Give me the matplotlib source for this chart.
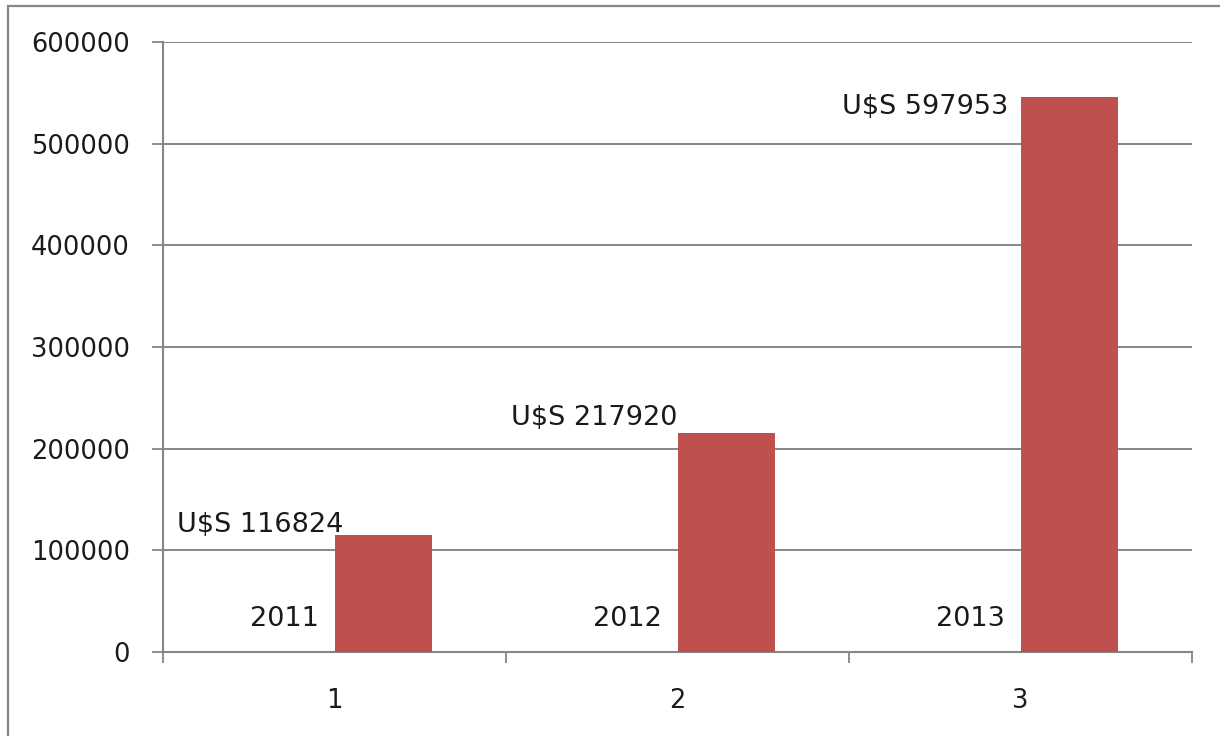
import matplotlib
matplotlib.use("Agg")
import matplotlib.pyplot as plt
from matplotlib.patches import Rectangle

categories = [1, 2, 3]
years = ["2011", "2012", "2013"]
bar_values = [115000, 215500, 546000]
value_labels = ["U$S 116824", "U$S 217920", "U$S 597953"]
y_ticks = [0, 100000, 200000, 300000, 400000, 500000, 600000]

plt.rcParams['font.family'] = ['DejaVu Sans']
W, H = 1220, 736
fig = plt.figure(figsize=(W / 100, H / 100), dpi=100)

# outer chart border (only top and left visible in the crop)
fig.patches.append(Rectangle((8 / W, -0.1), 1.2, (H - 6) / H + 0.1, transform=fig.transFigure,
                             fill=False, edgecolor="#868686", linewidth=1.6, zorder=0))

ax = fig.add_axes([163 / W, (H - 652) / H, (1192 - 163) / W, (652 - 42) / H])
grid_c = "#868686"
bar_w = 0.283
bars = ax.bar(categories, bar_values, width=bar_w, align="edge", color="#C0504D",
              edgecolor="none", zorder=3)

ax.set_xlim(0.5, 3.5)
ax.set_ylim(0, 600000)
ax.set_yticks(y_ticks)
ax.set_yticklabels([str(v) for v in y_ticks])
ax.yaxis.grid(True, color=grid_c, linewidth=1.4, zorder=0)
ax.set_axisbelow(True)

ax.set_xticks([0.5, 1.5, 2.5, 3.5])
ax.set_xticklabels([])
ax.set_xticks(categories, minor=True)
ax.set_xticklabels([str(c) for c in categories], minor=True)
ax.tick_params(axis="x", which="minor", length=0, pad=26, labelsize=18.5, labelcolor="#1a1a1a")
ax.tick_params(axis="x", which="major", length=8, width=1.3, color=grid_c, direction="out")
ax.tick_params(axis="y", length=8, width=1.3, color=grid_c, direction="out", pad=16,
               labelsize=18.5, labelcolor="#1a1a1a")

for s in ["top", "right"]:
    ax.spines[s].set_visible(False)
for s in ["left", "bottom"]:
    ax.spines[s].set_color(grid_c)
    ax.spines[s].set_linewidth(1.5)

# data labels (custom positions as in the original)
label_dy = [10000, 14500, -9500]
label_dx = [0.025, 0.0, -0.035]
for c, v, t, dy, dx in zip(categories, bar_values, value_labels, label_dy, label_dx):
    ax.text(c + dx, v + dy, t, ha="right", va="center", fontsize=19.5, color="#1a1a1a", zorder=5)
for c, y in zip(categories, years):
    ax.text(c - 0.045, 32500, y, ha="right", va="center", fontsize=19.5, color="#1a1a1a", zorder=5)

fig.savefig("out.png", dpi=100)
